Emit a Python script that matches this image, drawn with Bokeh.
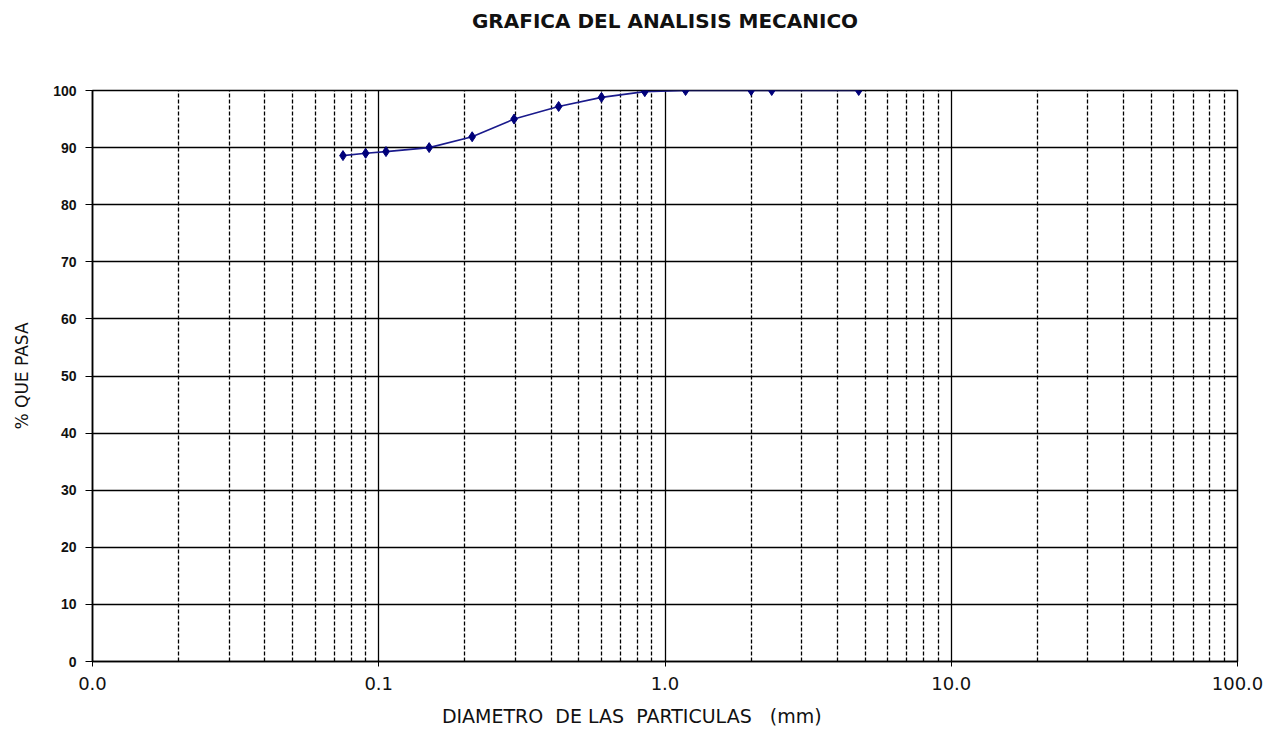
from bokeh.plotting import figure
from bokeh.models import FixedTicker, Grid, Range1d, Title
from bokeh.embed import file_html
from bokeh.resources import INLINE

# Data
diametro_mm = [0.075, 0.090, 0.106, 0.150, 0.212, 0.297, 0.425, 0.600, 0.850, 1.18, 2.00, 2.36, 4.75]
pct_pasa = [88.6, 89.0, 89.3, 90.0, 91.9, 95.0, 97.2, 98.8, 99.8, 100.0, 100.0, 100.0, 100.0]

x_ticks = [0.01, 0.1, 1, 10, 100]
x_tick_labels = ["0.0", "0.1", "1.0", "10.0", "100.0"]
y_ticks = [0, 10, 20, 30, 40, 50, 60, 70, 80, 90, 100]

TITLE = "GRAFICA DEL ANALISIS MECANICO"
X_LABEL = "DIAMETRO\u00a0 DE LAS\u00a0 PARTICULAS\u00a0\u00a0 (mm)"
Y_LABEL = "% QUE PASA"

FONT = "DejaVu Sans"
FONT2 = "Liberation Sans"

p = figure(width=1265, height=731, x_axis_type="log",
           x_range=Range1d(0.01, 100), y_range=Range1d(0, 100),
           output_backend="svg", toolbar_location=None,
           min_border_left=92, min_border_right=28,
           min_border_top=90, min_border_bottom=70)

# spacer (closest to the frame) then the real title above it
spacer = Title(text=" ", text_font_size="2px", standoff=54)
p.add_layout(spacer, "above")
main_title = Title(text=TITLE, align="center", text_font=FONT,
                   text_font_size="20px", text_font_style="bold",
                   text_color="#111111", standoff=0)
p.add_layout(main_title, "above")

p.outline_line_color = "black"
p.outline_line_width = 1.5
p.background_fill_color = "white"

# axes
xa = p.xaxis[0]
xa.ticker = FixedTicker(ticks=x_ticks)
xa.major_label_overrides = {t: l for t, l in zip(x_ticks, x_tick_labels)}
# trailing non-breaking spaces shift the centred label left, as in the original
xa.axis_label = X_LABEL + "\u00a0" * 11
xa.axis_label_text_font = FONT
xa.axis_label_text_font_size = "19px"
xa.axis_label_text_font_style = "normal"
xa.axis_label_text_color = "#111111"
xa.axis_label_standoff = 12
xa.major_label_text_font = FONT
xa.major_label_text_font_size = "18px"
xa.major_label_text_color = "#111111"
xa.major_label_standoff = 10
xa.major_tick_out = 5
xa.major_tick_in = 0
xa.minor_tick_out = 0
xa.minor_tick_in = 0
xa.axis_line_color = "black"
xa.axis_line_width = 1.5

ya = p.yaxis[0]
ya.ticker = FixedTicker(ticks=y_ticks)
ya.axis_label = Y_LABEL
ya.axis_label_text_font = FONT
ya.axis_label_text_font_size = "17px"
ya.axis_label_text_font_style = "normal"
ya.axis_label_text_color = "#111111"
ya.axis_label_standoff = 18
ya.major_label_text_font = FONT2
ya.major_label_text_font_size = "14px"
ya.major_label_text_font_style = "bold"
ya.major_label_text_color = "#111111"
ya.major_label_standoff = 9
ya.major_tick_out = 7
ya.major_tick_in = 0
ya.minor_tick_out = 0
ya.axis_line_color = "black"
ya.axis_line_width = 1.5

# grids
p.ygrid.ticker = FixedTicker(ticks=y_ticks)
p.ygrid.grid_line_color = "black"
p.ygrid.grid_line_width = 1.3
p.ygrid.grid_line_alpha = 1.0

p.xgrid.ticker = FixedTicker(ticks=[0.1, 1, 10])
p.xgrid.grid_line_color = "black"
p.xgrid.grid_line_width = 1.3

minor_vals = [d * k for d in [0.01, 0.1, 1, 10] for k in range(2, 10)]
minor_grid = Grid(dimension=0, ticker=FixedTicker(ticks=minor_vals),
                  grid_line_color="black", grid_line_width=1.3,
                  grid_line_dash="4 2")
p.add_layout(minor_grid)

# series
p.line(diametro_mm, pct_pasa, line_color="#1a1a8c", line_width=1.6)
p.scatter(diametro_mm, pct_pasa, marker="diamond", size=10,
          fill_color="#00007a", line_color="#00007a")

open("out.html", "w").write(file_html(p, INLINE))
